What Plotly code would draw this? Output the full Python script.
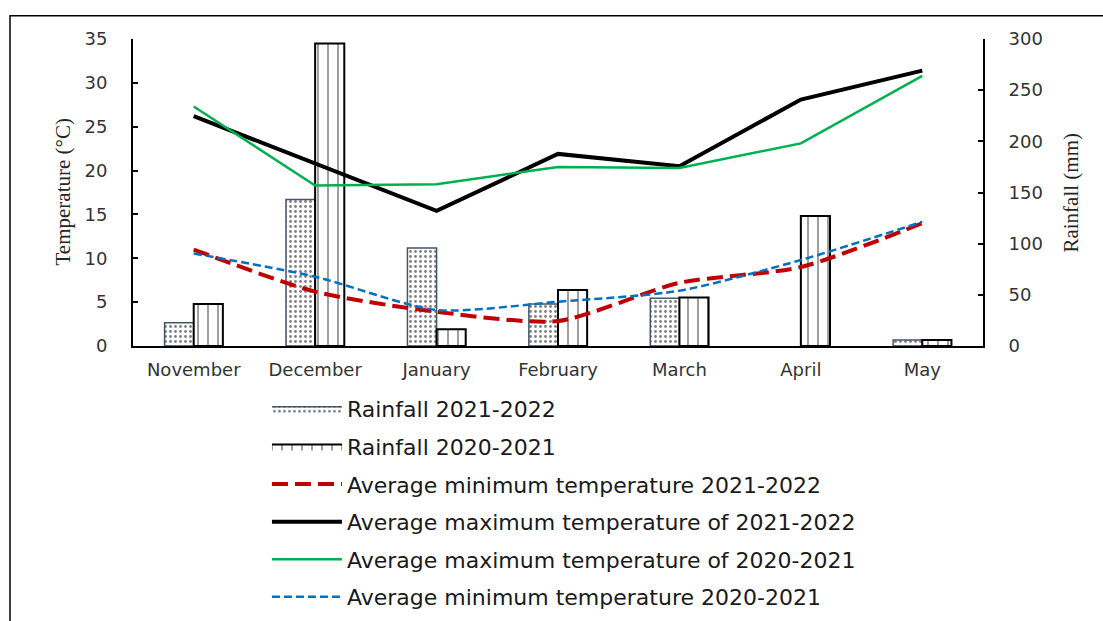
import plotly.graph_objects as go

months = ["November", "December", "January", "February", "March", "April", "May"]
rain_2122 = [22.7, 143.2, 95.7, 41.0, 46.6, 0.0, 5.9]
rain_2021 = [41.0, 295.5, 16.3, 54.7, 47.5, 127.0, 5.9]
tmin_2122 = [11.0, 6.2, 3.9, 2.85, 7.2, 9.0, 14.0]
tmax_2122 = [26.2, 20.8, 15.4, 21.9, 20.5, 28.1, 31.4]
tmax_2021 = [27.3, 18.3, 18.45, 20.4, 20.3, 23.1, 30.8]
tmin_2021 = [10.55, 7.9, 4.1, 5.05, 6.3, 9.8, 14.15]

TICKFONT = dict(family="DejaVu Sans", size=18, color="#333333")

PAT1 = dict(shape=".", fgcolor="black", bgcolor="white", size=5, solidity=0.25)
PAT2 = dict(shape="|", fgcolor="black", bgcolor="white", size=10, solidity=0.15)

fig = go.Figure()
fig.add_trace(go.Bar(
    x=months, y=rain_2122, name="Rainfall 2021-2022", yaxis="y", showlegend=False,
    marker=dict(color="white", pattern=PAT1,
                line=dict(color="#44546A", width=[1.5 if v > 0 else 0 for v in rain_2122])),
))
fig.add_trace(go.Bar(
    x=months, y=rain_2021, name="Rainfall 2020-2021", yaxis="y", showlegend=False,
    marker=dict(color="white", pattern=PAT2,
                line=dict(color="black", width=[2 if v > 0 else 0 for v in rain_2021])),
))
# legend entries for the rainfall bars (wide patterned swatches)
fig.add_trace(go.Scatter(
    x=[None], y=[None], name="Rainfall 2021-2022", yaxis="y", legendgroup="a",
    mode="lines", fill="toself", fillcolor="white", fillpattern=PAT1,
    line=dict(color="#44546A", width=1.5),
))
fig.add_trace(go.Scatter(
    x=[None], y=[None], name="Rainfall 2020-2021", yaxis="y", legendgroup="b",
    mode="lines", fill="toself", fillcolor="white", fillpattern=PAT2,
    line=dict(color="black", width=2),
))
fig.add_trace(go.Scatter(
    x=months, y=tmin_2122, name="Average minimum temperature 2021-2022", yaxis="y2", legendgroup="c",
    mode="lines", line=dict(color="#C00000", width=4, dash="16px,7px", shape="spline", smoothing=0.7),
))
fig.add_trace(go.Scatter(
    x=months, y=tmax_2122, name="Average maximum temperature of 2021-2022", yaxis="y2", legendgroup="d",
    mode="lines", line=dict(color="black", width=4),
))
fig.add_trace(go.Scatter(
    x=months, y=tmax_2021, name="Average maximum temperature of 2020-2021", yaxis="y2", legendgroup="e",
    mode="lines", line=dict(color="#00B050", width=2.5),
))
fig.add_trace(go.Scatter(
    x=months, y=tmin_2021, name="Average minimum temperature 2020-2021", yaxis="y2", legendgroup="f",
    mode="lines", line=dict(color="#0070C0", width=2.5, dash="8px,4px", shape="spline", smoothing=0.7),
))

fig.update_layout(
    width=1103, height=621,
    margin=dict(l=133, r=120, t=39, b=275, autoexpand=False),
    paper_bgcolor="white", plot_bgcolor="white",
    barmode="group", bargap=0.52, bargroupgap=0,
    showlegend=True,
    legend=dict(x=0.1576, xanchor="left", y=-0.137, yanchor="top",
                font=dict(family="DejaVu Sans", size=22, color="#1a1a1a"),
                itemwidth=70, tracegroupgap=6, traceorder="grouped",
                bgcolor="rgba(0,0,0,0)"),
    xaxis=dict(range=[-0.5, 6.5], showline=True, linecolor="black", linewidth=2,
               ticks="", tickfont=TICKFONT, showgrid=False, zeroline=False,
               ticklabelstandoff=6),
    yaxis=dict(side="right", range=[0, 300], dtick=50, showline=True, linecolor="black",
               linewidth=2, ticks="inside", ticklen=5, tickcolor="black", tickwidth=1.5,
               tickfont=TICKFONT, showgrid=False, zeroline=False, ticklabelstandoff=20),
    yaxis2=dict(side="left", overlaying="y", range=[0, 35], dtick=5, showline=True,
                linecolor="black", linewidth=2, ticks="inside", ticklen=5, tickcolor="black",
                tickwidth=1.5, tickfont=TICKFONT, showgrid=False, zeroline=False,
                ticklabelstandoff=20),
    annotations=[
        dict(text="Temperature (°C)", xref="paper", yref="paper", x=-0.0835, y=0.5,
             textangle=-90, showarrow=False, xanchor="center", yanchor="middle",
             font=dict(family="Liberation Serif", size=21, color="#262626")),
        dict(text="Rainfall (mm)", xref="paper", yref="paper", x=1.1024, y=0.5,
             textangle=-90, showarrow=False, xanchor="center", yanchor="middle",
             font=dict(family="Liberation Serif", size=21, color="#262626")),
    ],
    shapes=[
        dict(type="rect", xref="paper", yref="paper", x0=-0.1447, x1=1.25, y0=-0.95, y1=1.0755,
             line=dict(color="black", width=1.5), fillcolor="rgba(0,0,0,0)", layer="below"),
    ],
)

fig.write_html("out.html")
